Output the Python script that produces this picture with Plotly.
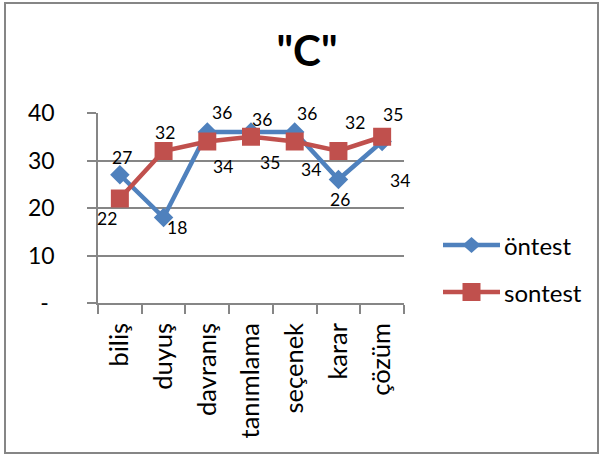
import plotly.graph_objects as go

# Category labels and the two test series
categories = ["biliş", "duyuş", "davranış", "tanımlama", "seçenek", "karar", "çözüm"]
ontest = [27, 18, 36, 36, 36, 26, 34]
sontest = [22, 32, 34, 35, 34, 32, 35]
series_names = ["öntest", "sontest"]
y_ticks = [0, 10, 20, 30, 40]
y_ticktext = ["-\u00a0", "10", "20", "30", "40"]

BLUE = "#4F81BD"
RED = "#C0504D"
GRAY = "#868686"
FONT = "Lato"

W, H = 603, 456
L, R, T, B = 98, 199, 113, 153

# Per-point label offsets (pixels, x right / y down)
ontest_off = [(2, -17), (13, 10), (15, -20), (11, -13), (12, -19), (2, 20), (18, 39)]
sontest_off = [(-13, 20), (1, -19), (16, 25), (19, 26), (16, 28), (17, -29), (11, -22)]

fig = go.Figure()
fig.add_trace(go.Scatter(
    x=categories, y=ontest, name=series_names[0], mode="lines+markers",
    line=dict(color=BLUE, width=4.5),
    marker=dict(symbol="diamond", size=15, color=BLUE),
    cliponaxis=False, showlegend=False,
))
fig.add_trace(go.Scatter(
    x=categories, y=sontest, name=series_names[1], mode="lines+markers",
    line=dict(color=RED, width=4.5),
    marker=dict(symbol="square", size=18, color=RED),
    cliponaxis=False, showlegend=False,
))

annotations = []
for vals, offs in ((ontest, ontest_off), (sontest, sontest_off)):
    for cat, v, (dx, dy) in zip(categories, vals, offs):
        annotations.append(dict(
            x=cat, y=v, xref="x", yref="y", text=str(v), showarrow=False,
            xshift=dx, yshift=-dy, font=dict(family=FONT, size=17.5, color="black"),
        ))

# Legend drawn by hand: long line with a marker in the middle
def px(x):
    return (x - L) / (W - L - R)

def py(y):
    return 1 - (y - T) / (H - T - B)

shapes = []
legend_rows = [(series_names[0], BLUE, "diamond", 245), (series_names[1], RED, "square", 292)]
for name, color, sym, yc in legend_rows:
    shapes.append(dict(type="line", xref="paper", yref="paper",
                       x0=px(443), x1=px(500), y0=py(yc), y1=py(yc),
                       line=dict(color=color, width=4.5)))
    cx = 471.5
    if sym == "diamond":
        path = "M {},{} L {},{} L {},{} L {},{} Z".format(
            px(cx - 9), py(yc), px(cx), py(yc - 8), px(cx + 9), py(yc), px(cx), py(yc + 8))
    else:
        path = "M {},{} L {},{} L {},{} L {},{} Z".format(
            px(cx - 9), py(yc - 9), px(cx + 9), py(yc - 9), px(cx + 9), py(yc + 9), px(cx - 9), py(yc + 9))
    shapes.append(dict(type="path", xref="paper", yref="paper", path=path,
                       fillcolor=color, line=dict(color=color, width=0)))
    annotations.append(dict(x=px(502), y=py(yc), xref="paper", yref="paper",
                            text=name, showarrow=False, xanchor="left", yanchor="middle",
                            font=dict(family=FONT, size=24, color="black")))

# Outer chart border
shapes.append(dict(type="rect", xref="paper", yref="paper",
                   x0=px(5), x1=px(598), y0=py(3), y1=py(453),
                   line=dict(color=GRAY, width=2)))

fig.update_layout(
    width=W, height=H,
    margin=dict(l=L, r=R, t=T, b=B),
    paper_bgcolor="white", plot_bgcolor="white",
    title=dict(text='<b>"C"</b>', x=307 / W, xref="container", xanchor="center",
               y=1 - 51 / H, yref="container", yanchor="middle",
               font=dict(family=FONT, size=42, color="black")),
    xaxis=dict(type="category", range=[-0.5, 6.5], tickson="boundaries",
               ticks="outside", ticklen=9, tickcolor=GRAY, tickwidth=1.5,
               showline=True, linecolor=GRAY, linewidth=1.5, showgrid=False,
               tickangle=-90, ticklabelstandoff=8,
               tickfont=dict(family=FONT, size=25.5, color="black")),
    yaxis=dict(range=[0, 40], tickvals=y_ticks, ticktext=y_ticktext,
               ticks="outside", ticklen=9, tickcolor=GRAY, tickwidth=1.5,
               showline=True, linecolor=GRAY, linewidth=1.5,
               showgrid=True, gridcolor=GRAY, gridwidth=1.5, zeroline=False,
               ticklabelstandoff=28,
               tickfont=dict(family=FONT, size=23, color="black")),
    annotations=annotations,
    shapes=shapes,
    showlegend=False,
)

fig.write_html("out.html")
